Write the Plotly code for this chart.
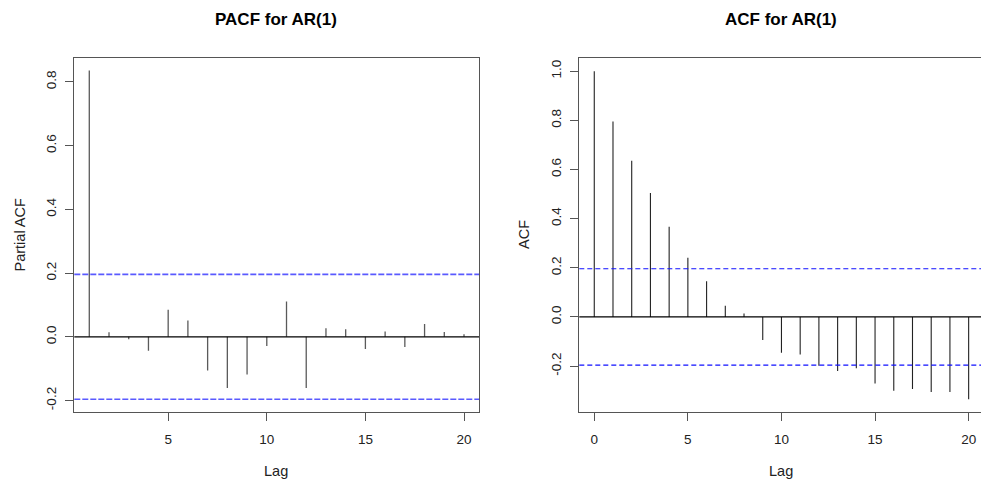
import plotly.graph_objects as go

# ---- data ----
pacf_lags = list(range(1, 21))
pacf_vals = [0.836, 0.014, -0.008, -0.044, 0.085, 0.051, -0.106, -0.161, -0.118, -0.029,
             0.111, -0.161, 0.027, 0.024, -0.038, 0.017, -0.032, 0.040, 0.015, 0.008]
acf_lags = list(range(0, 21))
acf_vals = [1.000, 0.795, 0.636, 0.504, 0.367, 0.241, 0.145, 0.046, 0.014, -0.094,
            -0.146, -0.153, -0.199, -0.220, -0.209, -0.271, -0.300, -0.293, -0.305, -0.305, -0.335]
ci = 0.196
pacf_xticks = [5, 10, 15, 20]
acf_xticks = [0, 5, 10, 15, 20]
pacf_yticks = [-0.2, 0.0, 0.2, 0.4, 0.6, 0.8]
acf_yticks = [-0.2, 0.0, 0.2, 0.4, 0.6, 0.8, 1.0]
titles = ["PACF for AR(1)", "ACF for AR(1)"]
ylabels = ["Partial ACF", "ACF"]
xlabel = "Lag"

W, H = 981, 485
FONT = "Liberation Sans, Arial, sans-serif"
BOX = "#555555"
TXT = "#222222"


def px_x(p):
    return p / W


def px_y(p):
    return (H - p) / H


def stems(lags, vals):
    xs, ys = [], []
    for l, v in zip(lags, vals):
        xs += [l, l, None]
        ys += [0, v, None]
    return xs, ys


fig = go.Figure()
x1, y1 = stems(pacf_lags, pacf_vals)
fig.add_trace(go.Scatter(x=x1, y=y1, mode="lines", line=dict(color="#5a5a5a", width=1.3),
                         xaxis="x", yaxis="y", showlegend=False, hoverinfo="skip"))
x2, y2 = stems(acf_lags, acf_vals)
fig.add_trace(go.Scatter(x=x2, y=y2, mode="lines", line=dict(color="#222222", width=1.1),
                         xaxis="x2", yaxis="y2", showlegend=False, hoverinfo="skip"))

tickfont = dict(family=FONT, size=13.5, color=TXT)
common_x = dict(showgrid=False, zeroline=False, showline=True, linecolor=BOX, linewidth=1.3,
                ticks="outside", ticklen=8, tickcolor=BOX, tickwidth=1.2, tickfont=tickfont,
                ticklabelstandoff=6, fixedrange=True)
common_y = dict(showgrid=False, zeroline=False, showline=True, linecolor=BOX, linewidth=1.3,
                ticks="outside", ticklen=8, tickcolor=BOX, tickwidth=1.2, tickfont=tickfont,
                tickangle=-90, ticklabelstandoff=4, fixedrange=True)

fig.update_layout(
    width=W, height=H,
    margin=dict(l=0, r=0, t=0, b=0),
    paper_bgcolor="white", plot_bgcolor="white",
    xaxis=dict(common_x, domain=[px_x(74.3), px_x(479)], range=[0.24, 20.76],
               tickvals=pacf_xticks, mirror=True, anchor="y"),
    yaxis=dict(common_y, domain=[px_y(412.3), px_y(57.7)], range=[-0.237, 0.876],
               tickvals=pacf_yticks, ticktext=[f"{v:.1f}" for v in pacf_yticks],
               mirror=True, anchor="x"),
    xaxis2=dict(common_x, domain=[px_x(579.3), 1.0], range=[-0.8, 20.66],
                tickvals=acf_xticks, mirror=True, anchor="y2"),
    yaxis2=dict(common_y, domain=[px_y(412.3), px_y(57.7)], range=[-0.388, 1.055],
                tickvals=acf_yticks, ticktext=[f"{v:.1f}" for v in acf_yticks],
                mirror=False, anchor="x2"),
)

shapes = []
# zero lines
for xr, yr in (("x domain", "y"), ("x2 domain", "y2")):
    shapes.append(dict(type="line", xref=xr, yref=yr, x0=0, x1=1, y0=0, y1=0,
                       line=dict(color="black", width=1.2)))
# confidence bands
for yv in (ci, -ci):
    shapes.append(dict(type="line", xref="x domain", yref="y", x0=0, x1=1, y0=yv, y1=yv,
                       line=dict(color="#5a5aff", width=1.6, dash="6px,2px")))
    shapes.append(dict(type="line", xref="x2 domain", yref="y2", x0=0, x1=1, y0=yv, y1=yv,
                       line=dict(color="#1010ff", width=1.1, dash="5px,3px")))
fig.update_layout(shapes=shapes)

ann = []
title_cx = [275.5, 781.2]
ylab_cx = [19.5, 524]
for i in range(2):
    ann.append(dict(text=f"<b>{titles[i]}</b>", xref="paper", yref="paper",
                    x=px_x(title_cx[i]), y=px_y(20), xanchor="center", yanchor="middle",
                    showarrow=False, font=dict(family=FONT, size=17, color="black")))
    ann.append(dict(text=xlabel, xref="paper", yref="paper",
                    x=px_x(title_cx[i]), y=px_y(471), xanchor="center", yanchor="middle",
                    showarrow=False, font=dict(family=FONT, size=14.5, color=TXT)))
    ann.append(dict(text=ylabels[i], xref="paper", yref="paper", textangle=-90,
                    x=px_x(ylab_cx[i]), y=px_y(235), xanchor="center", yanchor="middle",
                    showarrow=False, font=dict(family=FONT, size=14.5, color=TXT)))
fig.update_layout(annotations=ann)

# remove the browser's default 8px body margin so the figure fills the window exactly
fig.write_html("out.html", config={"displayModeBar": False},
               post_script="document.body.style.margin='0';document.body.style.overflow='hidden';")
